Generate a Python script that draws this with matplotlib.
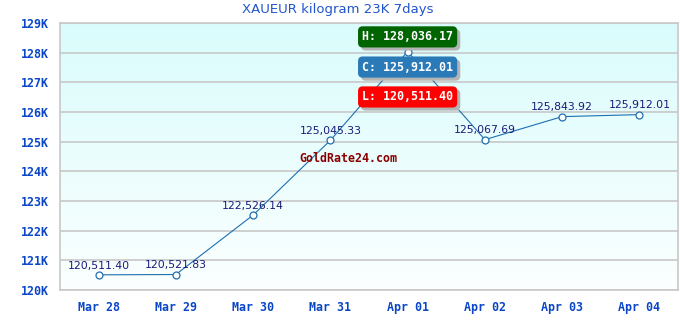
import numpy as np
import matplotlib.pyplot as plt
from matplotlib import patheffects
from matplotlib.transforms import blended_transform_factory

# chart data
dates = ['Mar 28', 'Mar 29', 'Mar 30', 'Mar 31', 'Apr 01', 'Apr 02', 'Apr 03', 'Apr 04']
prices = [120511.40, 120521.83, 122526.14, 125045.33, 128036.17, 125067.69, 125843.92, 125912.01]
yticks = [120000, 121000, 122000, 123000, 124000, 125000, 126000, 127000, 128000, 129000]
title = 'XAUEUR kilogram 23K 7days'

hi = max(prices)
lo = min(prices)
close = prices[-1]

fig = plt.figure(figsize=(6.8, 3.2), dpi=100)
ax = fig.add_axes([60 / 680, 1 - 290 / 320, 618 / 680, 267 / 320])

x = np.arange(len(dates)) + 0.5
ax.set_xlim(0, len(dates))
ax.set_ylim(120000, 129000)

# background gradient (light cyan at top -> white at bottom)
grad = np.linspace(0, 1, 256).reshape(-1, 1)
top = np.array([0.855, 0.988, 0.988])
bot = np.array([0.985, 1.0, 1.0])
img = top * (1 - grad[..., None]) + bot * grad[..., None]
ax.imshow(img, extent=[0, len(dates), 120000, 129000], origin='upper', aspect='auto', zorder=0)

ax.set_yticks(yticks)
ax.set_yticklabels([f'{v // 1000}K' for v in yticks])
ax.set_xticks(x)
ax.set_xticklabels(dates)
ax.grid(axis='y', color='#c8c8c8', linewidth=1.2, zorder=1)
for s in ax.spines.values():
    s.set_color('#c8c8c8')
    s.set_linewidth(1.2)
ax.tick_params(length=0, pad=8, labelcolor='#0a46c8')
for lab in ax.get_xticklabels() + ax.get_yticklabels():
    lab.set_family('DejaVu Sans Mono')
    lab.set_fontweight('bold')
    lab.set_fontsize(8.4)

ax.plot(x, prices, color='#1f6fb0', linewidth=0.8, zorder=3,
        marker='o', markersize=5, markerfacecolor='white',
        markeredgecolor='#1f6fb0', markeredgewidth=0.9)

for xi, v in zip(x, prices):
    if v == hi:
        continue
    ax.annotate(f'{v:,.2f}', (xi, v), xytext=(0, 3), textcoords='offset points',
                ha='center', va='bottom', fontsize=7.8, color='#1a1a7a', zorder=4)

ax.text(0.466, 0.494, 'GoldRate24.com', transform=ax.transAxes, ha='center', va='center',
        family='DejaVu Sans Mono', fontweight='bold', fontsize=8.4, color='#8b0000', zorder=4)

# high / close / low boxes above the high point
tr = blended_transform_factory(ax.transData, ax.transAxes)
xh = x[prices.index(hi)]
boxes = [('H', hi, '#006400', 0.948), ('C', close, '#2a7ab8', 0.835), ('L', lo, '#ff0000', 0.723)]
for key, val, col, yy in boxes:
    t = ax.text(xh, yy, f'{key}: {val:,.2f}', transform=tr, ha='center', va='center',
                family='DejaVu Sans Mono', fontweight='bold', fontsize=8.4, color='white', zorder=6,
                bbox=dict(boxstyle='round,pad=0.35,rounding_size=0.4', facecolor=col, edgecolor='none'))
    t.get_bbox_patch().set_path_effects([
        patheffects.SimplePatchShadow(offset=(2.2, -2.2), shadow_rgbFace='#b4b4b4', alpha=1),
        patheffects.Normal()])

fig.text(338 / 680, 1 - 10 / 320, title, ha='center', va='center', fontsize=9.5, color='#2255cc')

fig.savefig('out.png', dpi=100)
